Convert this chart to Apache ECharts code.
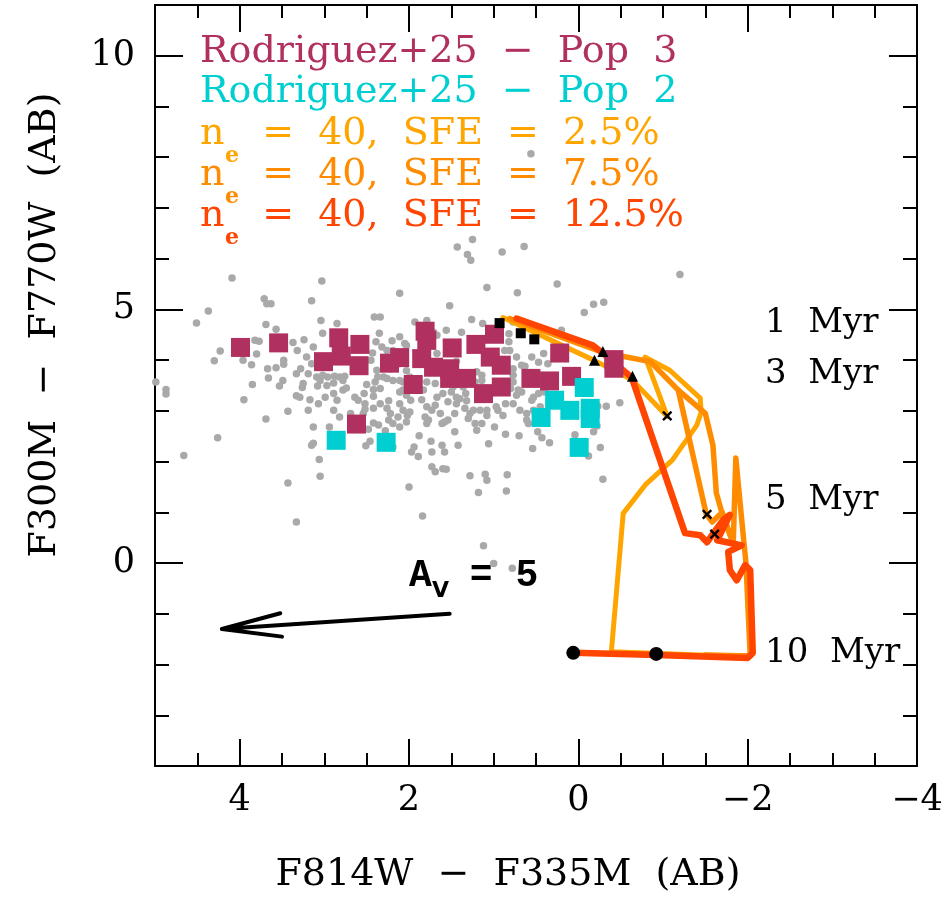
<!DOCTYPE html>
<html>
<head>
<meta charset="utf-8">
<title>F814W − F335M vs F300M − F770W</title>
<script src="https://cdn.jsdelivr.net/npm/echarts@6/dist/echarts.min.js"></script>
<style>
  html, body { margin: 0; padding: 0; background: #fff; }
  #chart { width: 946px; height: 909px; }
</style>
</head>
<body>
<div id="chart"></div>
<script>
// ---- data (colour-colour values, AB mag) ----
// background field sources
const fieldPoints = [
  [1.31,6.08],[1.27,5.97],[0.90,6.13],[4.09,5.62],[3.03,5.56],[2.11,5.32],[1.08,5.43],[0.72,5.33],[0.25,5.50],[3.71,5.21],
  [3.68,5.11],[3.63,5.11],[3.15,5.17],[1.52,5.07],[4.37,4.97],[4.51,4.73],[3.69,4.70],[3.57,4.61],[4.23,4.18],[4.30,3.99],
  [3.80,4.12],[3.96,4.00],[3.86,3.91],[3.82,4.39],[3.77,4.37],[3.37,4.35],[3.32,4.19],[3.48,4.00],[3.48,3.92],[3.67,3.83],
  [3.57,3.85],[3.33,3.73],[3.66,3.65],[3.49,3.60],[3.53,3.49],[3.85,3.52],[3.95,3.22],[4.99,3.57],[4.87,3.42],[4.87,3.33],
  [3.33,3.30],[3.43,2.99],[3.69,2.84],[2.19,2.75],[2.11,2.68],[2.03,2.78],[3.13,2.68],[2.94,2.68],[2.48,2.64],[2.42,2.76],
  [2.36,2.72],[2.28,2.61],[4.26,2.47],[4.66,2.12],[3.15,2.32],[3.13,2.36],[3.06,2.04],[3.05,1.71],[3.43,1.58],[2.51,2.31],
  [2.46,2.40],[2.19,2.29],[1.97,2.19],[1.94,2.29],[1.89,2.10],[1.88,2.51],[1.79,2.75],[1.74,2.40],[1.73,2.19],[1.73,1.90],
  [1.69,1.80],[1.60,1.86],[1.56,1.85],[1.61,2.32],[1.58,2.19],[1.46,2.59],[1.42,2.32],[1.61,2.75],[1.58,2.78],[1.20,2.62],
  [1.22,2.75],[1.14,2.75],[0.99,2.68],[0.86,2.54],[0.70,2.51],[1.06,2.35],[1.10,1.75],[1.08,1.63],[1.28,1.72],[1.18,1.39],
  [0.84,1.74],[0.85,1.42],[2.00,1.50],[0.59,2.75],[0.54,2.26],[0.48,2.59],[0.43,2.47],[0.34,2.37],[0.61,2.82],
  [3.04,4.78],[2.85,4.72],[2.41,4.85],[2.34,4.85],[1.93,4.75],[1.79,4.78],[1.56,4.59],[1.26,4.80],[1.13,4.72],[0.77,4.75],
  [0.62,4.69],[0.82,4.52],[3.24,4.40],[3.02,4.53],[2.35,4.53],[2.39,4.36],[2.20,4.38],[2.11,4.46],[2.05,4.33],[2.19,4.19],
  [1.67,4.49],[1.38,4.55],[1.24,4.39],[0.82,4.36],[0.87,4.19],[3.13,4.26],[2.43,4.14],[3.21,4.06],[3.28,3.83],[3.15,3.93],
  [3.19,3.73],[3.09,3.67],[2.45,4.00],[2.38,3.80],[2.30,3.67],[2.03,3.79],[1.67,4.13],[1.44,3.98],[1.20,3.77],[1.14,3.70],
  [0.73,4.06],[0.77,3.83],[0.67,3.90],[0.41,4.13],[0.36,3.93],[3.25,3.54],[3.05,3.60],[2.97,3.50],[2.89,3.55],[2.78,3.60],
  [2.50,3.52],[2.40,3.57],[2.34,3.44],[2.26,3.64],[2.19,3.60],[2.11,3.37],[1.83,3.41],[1.79,3.57],[1.69,3.54],[1.60,3.34],
  [1.50,3.37],[1.36,3.47],[1.33,3.34],[1.22,3.57],[1.14,3.60],[0.77,3.57],[0.71,3.41],[0.67,3.37],[0.53,3.27],[0.47,3.34],
  [3.29,3.27],[3.17,3.22],[3.07,3.14],[2.99,3.27],[2.89,3.34],[2.85,3.21],[2.78,3.41],[2.64,3.27],[2.60,3.21],[2.52,3.14],
  [2.42,3.29],[2.34,3.14],[2.24,3.20],[2.26,3.05],[2.22,2.95],[2.11,3.14],[2.07,3.01],[1.99,2.98],[1.85,3.22],[1.79,3.08],
  [1.73,3.01],[1.69,3.11],[1.63,2.95],[1.54,3.18],[1.44,3.14],[1.34,3.05],[1.28,2.95],[1.16,3.01],[1.08,3.01],[0.97,3.08],
  [0.89,2.91],[0.77,3.14],[0.69,3.01],[0.61,2.95],[0.53,3.01],[0.45,3.08],[3.19,3.01],[2.89,3.01],[2.82,2.88],[2.54,2.95],
  [0.20,4.59],[-0.18,5.10],[-0.30,5.14],[-0.07,4.94],[-0.49,3.16],[-0.33,3.09],[-0.23,3.09],[-0.26,2.28],[-0.12,2.11],[-0.29,1.65],
  [0.04,2.53],[-0.18,2.59],[-0.16,2.82],[-0.22,2.70],
  [3.33,0.81],[1.84,0.93],[1.12,0.34],[1.00,-0.01],[0.78,-0.10],
  [0.56,8.07],[1.25,6.38],[1.43,6.23],[0.64,6.24],[-1.20,5.69],
  [2.32,4.26],[2.26,4.19],[2.03,4.29],[2.96,3.67],[2.88,3.68],[2.82,3.67],[2.76,3.68],[3.02,3.70],[3.26,3.46],[3.08,3.49],
  [2.74,3.45],[2.42,3.42],[2.37,3.67],[2.69,2.95],[2.53,3.34],[2.52,3.03],[2.42,3.05],[1.98,3.21],[2.02,2.91],[2.13,2.88],
  [2.24,2.82],[1.77,2.82],[1.81,2.88],[1.54,2.82],[1.46,2.95],[1.40,3.24],[1.32,3.20],[1.30,2.85],[1.24,3.01],[1.08,2.91],
  [0.95,3.01],[0.86,3.14],[0.73,3.31],[0.55,3.21],[0.40,3.37],[0.63,3.88],[0.55,4.06],[0.47,3.96],[0.77,3.70],[0.81,4.19],
  [0.80,3.44],[2.07,3.57],[1.99,3.67],[2.11,3.60],[2.07,3.41],[2.03,3.31],[1.67,3.27],[1.48,3.47],[1.44,3.27],[1.71,4.55],
  [2.22,3.83],[2.15,3.90]
]

// Rodriguez+25 populations
const pop3 = [
  [3.99,4.25],[3.54,4.34],[2.83,4.44],[2.58,4.31],[3.01,3.97],[2.80,4.08],[2.59,3.89],[2.62,2.74],[1.81,4.57],[1.79,4.39],
  [2.23,3.94],[2.11,4.05],[1.95,3.52],[1.71,3.86],[1.49,4.24],[1.52,3.83],[1.52,3.64],[1.32,3.64],[1.21,4.31],[0.99,4.51],
  [1.12,3.34],[0.91,3.90],[0.91,3.47],[1.04,4.06],[0.56,3.64],[0.34,3.59],[0.22,4.14],[0.08,3.68],[-0.42,4.01],[-0.42,3.84],
  [1.85,4.03]
]
const pop2 = [
  [2.86,2.42],[2.27,2.38],[0.44,2.87],[0.28,3.21],[0.10,3.01],[-0.07,3.46],[-0.14,3.05],[-0.14,2.85],[-0.01,2.28]
]

// model tracks, n_e = 40
const trackSfe25 = [
  [0.89,4.84],[-0.18,4.00],[-0.63,3.62],[-1.05,2.89],[-0.79,4.06],[-1.08,3.80],[-1.44,3.25],[-1.45,2.97],[-1.40,2.72],
  [-1.11,2.03],[-0.79,1.54],[-0.53,0.98],[-0.39,-1.75],[-1.44,-1.81],[-1.98,-1.83]
]
const trackSfe75 = [
  [0.81,4.82],[-0.29,4.15],[-0.85,3.97],[-1.18,3.41],[-1.51,0.97],[-1.58,0.81],[-1.70,1.00],[-1.83,0.39],[-1.86,2.07],
  [-1.93,0.85],[-1.98,0.00],[-2.03,-1.83],[-1.50,-1.81]
]
const trackSfe75Loop = [
  [-1.18,3.41],[-1.50,2.95],[-1.59,2.32],[-1.63,1.38],[-1.71,0.91],[-1.83,0.39]
]
const trackSfe125 = [
  [0.73,4.82],[-0.17,4.29],[-0.28,4.15],[-0.63,3.66],[-1.26,0.59],[-1.44,0.55],[-1.52,0.41],[-1.71,0.85],[-1.79,0.95],
  [-1.64,0.45],[-1.93,0.35],[-1.77,0.22],[-1.79,-0.14],[-1.87,-0.34],[-1.97,-0.04],[-2.03,-0.14],[-2.06,-1.77],
  [-2.00,-1.87],[-0.93,-1.81],[0.06,-1.77]
]

// age markers along the tracks
const age1Myr = [[0.93,4.73],[0.68,4.53],[0.52,4.41]]
const age3Myr = [[-0.29,4.17],[-0.19,4.00],[-0.64,3.68]]
const age5Myr = [[-1.05,2.90],[-1.52,0.96],[-1.61,0.57]]
const age10Myr = [[0.06,-1.77],[-0.92,-1.79]]

// extinction vector A_V = 5 (shaft then open head)
const avArrow = [[1.52,-1.00],[4.21,-1.30],[3.52,-0.99],[4.21,-1.30],[3.50,-1.45]]

// axes
const X_MIN = -4
const X_MAX = 5
const Y_MIN = -4
const Y_MAX = 11
const yMajorTicks = [0, 5, 10]

// text (the original typesetting uses wide word gaps)
const legendPop = ['Rodriguez+25  \u2212  Pop  3', 'Rodriguez+25  \u2212  Pop  2']
const sfeLabels = ['2.5%', '7.5%', '12.5%']
const ageLabels = ['1  Myr', '3  Myr', '5  Myr', '10  Myr']
const xTitle = 'F814W  \u2212  F335M  (AB)'
const yTitle = 'F300M  \u2212  F770W  (AB)'

const MAROON = '#B03060'
const TURQ = '#00CED1'
const SFE_COLORS = ['#FFA500', '#FF8C00', '#FF4500']
const SERIF = "'DejaVu Serif', serif"
const MONO = "'Liberation Mono', monospace"

const chart = echarts.init(document.getElementById('chart'))

const minus = (v) => String(v).replace('-', '\u2212')

function xAxisCfg(position, step, major, labels) {
  return {
    type: 'value',
    position,
    min: X_MIN,
    max: X_MAX,
    inverse: true,
    interval: step,
    axisLine: { show: major, onZero: false, lineStyle: { color: '#000', width: 2 } },
    axisTick: { show: true, inside: true, length: major ? 27 : 13, lineStyle: { color: '#000', width: 2 } },
    axisLabel: labels
      ? {
          show: true,
          margin: 17,
          color: '#000',
          fontFamily: SERIF,
          fontSize: 35,
          showMinLabel: true,
          showMaxLabel: true,
          formatter: (v) => (v % 2 === 0 ? minus(v) : ''),
        }
      : { show: false },
    splitLine: { show: false },
  }
}

function yAxisCfg(position, major, labels) {
  const cfg = {
    type: 'value',
    position,
    min: Y_MIN,
    max: Y_MAX,
    axisLine: { show: major, onZero: false, lineStyle: { color: '#000', width: 2 } },
    axisTick: { show: true, inside: true, length: major ? 28 : 14, lineStyle: { color: '#000', width: 2 } },
    axisLabel: { show: false },
    splitLine: { show: false },
  }
  if (major) {
    cfg.axisTick.customValues = yMajorTicks
    if (labels) {
      cfg.axisLabel = {
        show: true,
        customValues: yMajorTicks,
        margin: 20,
        color: '#000',
        fontFamily: SERIF,
        fontSize: 35,
      }
    }
  } else {
    cfg.interval = 1
  }
  return cfg
}

function scatter(name, data, symbol, size, color, z, extra) {
  return Object.assign({
    name,
    type: 'scatter',
    data,
    symbol,
    symbolSize: size,
    itemStyle: { color, opacity: 1 },
    z,
    silent: true,
  }, extra || {})
}

function track(name, data, color, width, z) {
  return {
    name,
    type: 'line',
    data,
    symbol: 'none',
    lineStyle: { color, width, join: 'round', cap: 'round' },
    z,
    silent: true,
  }
}

function plainText(x, y, text, fill, size, align, opts) {
  const o = opts || {}
  return {
    type: 'text', x, y, rotation: o.rotation || 0,
    style: {
      text, fill, fontFamily: o.family || SERIF, fontSize: size, fontWeight: o.weight || 'normal',
      align, verticalAlign: 'middle', textAlign: align, textVerticalAlign: 'middle',
    },
  }
}

// texts placed around the frame
const graphics = []
legendPop.forEach((t, i) => {
  graphics.push(plainText(200, 52 + i * 40, t, i === 0 ? MAROON : TURQ, 38, 'left'))
})
sfeLabels.forEach((s, i) => {
  const c = SFE_COLORS[i]
  const yc = 134 + i * 41
  graphics.push(plainText(200, yc, 'n', c, 38, 'left'))
  graphics.push(plainText(225, yc + 22, 'e', c, 22, 'left', { weight: 'bold' }))
  graphics.push(plainText(238, yc, '  =  40,  SFE  =  ' + s, c, 38, 'left'))
})
const ageY = [323, 374, 500, 653]
ageLabels.forEach((t, i) => {
  graphics.push(plainText(765, ageY[i], t, '#000', 34, 'left'))
})
// A_V = 5
graphics.push(plainText(409, 576, 'A', '#000', 38, 'left', { family: MONO, weight: 'bold' }))
graphics.push(plainText(432, 591, 'V', '#000', 22, 'left', { family: "'DejaVu Sans', sans-serif", weight: 'bold' }))
graphics.push(plainText(447, 576, ' = 5', '#000', 38, 'left', { family: MONO, weight: 'bold' }))
// axis titles
graphics.push(plainText(508, 875, xTitle, '#000', 38, 'center'))
graphics.push(plainText(45, 325, yTitle, '#000', 38, 'center', { rotation: Math.PI / 2 }))

const crossPath = 'path://M4,0H6V4H10V6H6V10H4V6H0V4H4Z'

const option = {
  animation: false,
  backgroundColor: '#fff',
  grid: { left: 155, right: 29, top: 5, bottom: 143, containLabel: false, outerBoundsMode: 'none' },
  xAxis: [
    xAxisCfg('bottom', 2, true, true),
    xAxisCfg('bottom', 0.5, false, false),
    xAxisCfg('top', 2, true, false),
    xAxisCfg('top', 0.5, false, false),
  ],
  yAxis: [
    yAxisCfg('left', true, true),
    yAxisCfg('left', false, false),
    yAxisCfg('right', true, false),
    yAxisCfg('right', false, false),
  ],
  series: [
    scatter('field', fieldPoints, 'circle', 7.5, '#A9A9A9', 1),
    track('SFE 2.5%', trackSfe25, SFE_COLORS[0], 5, 2),
    track('SFE 7.5%', trackSfe75, SFE_COLORS[1], 5.5, 3),
    track('SFE 7.5% loop', trackSfe75Loop, SFE_COLORS[1], 5.5, 3),
    track('SFE 12.5%', trackSfe125, SFE_COLORS[2], 6.5, 4),
    scatter('Pop 3', pop3, 'rect', 19, MAROON, 5),
    scatter('Pop 2', pop2, 'rect', 19, TURQ, 6),
    scatter('1 Myr', age1Myr, 'rect', 10, '#000', 7),
    scatter('3 Myr', age3Myr, 'triangle', 11, '#000', 7),
    scatter('5 Myr', age5Myr, crossPath, 12, '#000', 7, { symbolRotate: 45 }),
    scatter('10 Myr', age10Myr, 'circle', 14, '#000', 7),
    {
      name: 'A_V',
      type: 'line',
      data: avArrow,
      symbol: 'none',
      lineStyle: { color: '#000', width: 4, join: 'round', cap: 'round' },
      z: 8,
      silent: true,
    },
  ],
  graphic: graphics,
}

chart.setOption(option)
</script>
</body>
</html>
